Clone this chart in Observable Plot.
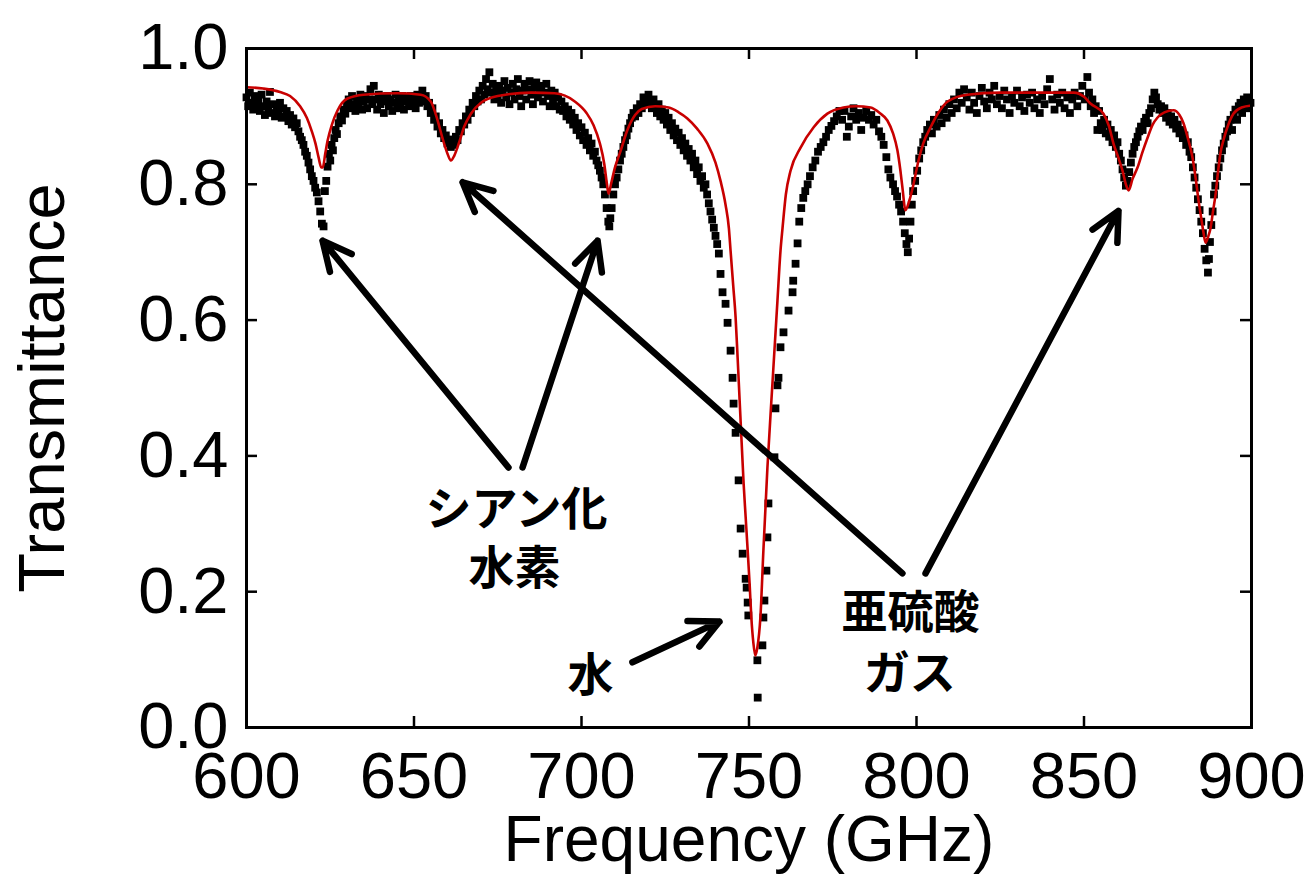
<!DOCTYPE html>
<html><head><meta charset="utf-8">
<script src="https://cdn.jsdelivr.net/npm/d3@7"></script>
<script src="https://cdn.jsdelivr.net/npm/@observablehq/plot@0.6"></script>
<style>body{margin:0;background:#fff;} #chart svg{display:block;}</style>
</head><body><div id="chart"></div>
<script>
// Measured transmittance (frequency GHz, transmittance)
const measured = [
[600.0,.928],[600.5,.915],[601.0,.935],[601.5,.920],[602.0,.910],[602.5,.930],[603.0,.918],[603.5,.925],[604.0,.908],[604.5,.932],[605.0,.915],[605.5,.902],[606.0,.922],[606.5,.912],[607.0,.936],[607.5,.905],[608.0,.918],[608.5,.900],[609.0,.915],[609.5,.905],[610.0,.920],[610.5,.898],[611.0,.912],[611.5,.900],[612.0,.908],[612.5,.893],[613.0,.902],[613.5,.888],[614.0,.897],[614.5,.884],
[615.0,.890],[615.5,.878],[616.0,.870],[616.5,.865],[617.0,.858],[617.5,.848],[618.0,.842],[618.5,.832],[619.0,.822],[619.5,.812],[620.0,.805],[620.5,.795],[621.0,.788],[621.5,.775],[622.0,.760],[622.5,.742],[623.0,.738],[623.4,.790],[623.8,.805],[624.2,.826],[624.6,.845],[625.0,.835],[625.4,.858],[625.8,.850],[626.2,.868],[626.6,.880],[627.0,.874],[627.5,.890],[628.0,.900],[628.5,.894],[629.0,.910],[629.5,.904],[630.0,.918],
[630.5,.925],[631.0,.912],[631.5,.930],[632.0,.918],[632.5,.908],[633.0,.925],[633.5,.915],[634.0,.932],[634.5,.910],[635.0,.922],[635.5,.930],[636.0,.912],[636.5,.925],[637.0,.940],[637.5,.918],[638.0,.945],[638.5,.925],[639.0,.910],[639.5,.932],[640.0,.918],[640.5,.928],[641.0,.905],[641.5,.922],[642.0,.930],[642.5,.915],[643.0,.925],[643.5,.908],[644.0,.920],[644.5,.932],[645.0,.912],[645.5,.925],[646.0,.918],[646.5,.930],[647.0,.910],[647.5,.922],[648.0,.928],[648.5,.915],[649.0,.930],[649.5,.918],[650.0,.925],[650.5,.912],[651.0,.932],[651.5,.920],[652.0,.928],[652.5,.938],[653.0,.922],[653.5,.930],[654.0,.915],
[654.5,.920],[655.0,.905],[655.5,.912],[656.0,.895],[656.5,.900],[657.0,.885],[657.5,.890],[658.0,.875],[658.5,.880],[659.0,.868],[659.5,.872],[660.0,.860],[660.5,.866],[661.0,.855],[661.5,.862],[662.0,.858],[662.5,.870],[663.0,.865],[663.5,.880],[664.0,.878],[664.5,.890],[665.0,.888],[665.5,.900],[666.0,.895],[666.5,.910],[667.0,.905],[667.5,.920],[668.0,.915],[668.5,.930],[669.0,.922],[669.5,.938],[670.0,.925],[670.5,.945],[671.0,.932],[671.5,.955],[672.0,.940],[672.5,.965],[673.0,.935],[673.5,.948],[674.0,.925],[674.5,.940],
[675.0,.930],[675.5,.945],[676.0,.920],[676.5,.938],[677.0,.952],[677.5,.928],[678.0,.942],[678.5,.918],[679.0,.935],[679.5,.948],[680.0,.925],[680.5,.940],[681.0,.955],[681.5,.930],[682.0,.915],[682.5,.938],[683.0,.948],[683.5,.925],[684.0,.940],[684.5,.952],[685.0,.932],[685.5,.918],[686.0,.942],[686.5,.950],[687.0,.928],[687.5,.940],[688.0,.945],[688.5,.922],[689.0,.935],[689.5,.948],[690.0,.930],[690.5,.915],[691.0,.938],[691.5,.925],[692.0,.935],[692.5,.915],[693.0,.928],[693.5,.910],[694.0,.922],[694.5,.908],[695.0,.915],[695.5,.900],[696.0,.910],
[696.5,.895],[697.0,.905],[697.5,.888],[698.0,.898],[698.5,.880],[699.0,.890],[699.5,.872],[700.0,.884],[700.5,.865],[701.0,.876],[701.5,.858],[702.0,.868],[702.5,.850],[703.0,.860],[703.5,.842],[704.0,.848],[704.5,.835],[705.0,.828],[705.5,.820],[706.0,.810],[706.5,.800],[707.0,.785],[707.5,.765],[708.0,.745],[708.3,.738],[708.6,.750],[709.0,.765],[709.5,.785],[710.0,.800],[710.5,.810],[711.0,.822],[711.5,.835],[712.0,.845],[712.5,.855],[713.0,.865],[713.5,.872],[714.0,.882],[714.5,.890],[715.0,.898],[715.5,.905],[716.0,.900],[716.5,.912],[717.0,.905],[717.5,.918],[718.0,.912],[718.5,.928],[719.0,.918],[719.5,.925],[720.0,.932],[720.5,.920],[721.0,.912],[721.5,.925],[722.0,.915],[722.5,.905],[723.0,.918],[723.5,.900],[724.0,.910],[724.5,.895],[725.0,.905],[725.5,.888],[726.0,.898],[726.5,.880],[727.0,.890],[727.5,.872],[728.0,.882],[728.5,.865],[729.0,.876],[729.5,.858],[730.0,.868],[730.5,.850],[731.0,.860],[731.5,.842],[732.0,.852],[732.5,.835],[733.0,.845],[733.5,.825],[734.0,.835],[734.5,.815],[735.0,.825],[735.5,.805],[736.0,.812],[736.5,.795],[737.0,.800],[737.5,.785],[738.0,.772],[738.5,.760],[739.0,.748],[739.5,.736],[740.0,.724],[740.5,.712],[741.0,.698],[741.5,.668],[742.1,.641],[743.0,.624],[743.6,.596],[744.5,.555],[745.1,.515],[745.4,.477],[746.0,.434],[746.9,.364],[747.5,.293],[748.1,.256],[749.0,.219],[749.3,.206],[749.6,.184],[749.8,.165],[752.5,.099],[752.6,.044],
[754.0,.121],[754.3,.162],[754.6,.187],[755.2,.231],[755.5,.280],[755.8,.330],[757.6,.398],[757.9,.470],[758.5,.504],[758.8,.515],[759.4,.560],[760.3,.582],[761.8,.614],[763.0,.641],[763.2,.658],[763.9,.683],[764.5,.713],[765.0,.745],[765.6,.765],[766.2,.780],[766.8,.790],[767.5,.800],[768.2,.812],[769.0,.825],[769.8,.835],[770.6,.848],[771.4,.855],[772.2,.862],[773.0,.870],[773.8,.880],[774.6,.886],[775.4,.893],[776.2,.900],[777.0,.908],[777.8,.895],[778.5,.908],[779.2,.870],[779.8,.885],[780.5,.900],[781.2,.912],[782.0,.895],[782.8,.905],[783.5,.880],[784.2,.898],[785.0,.908],[785.8,.895],[786.5,.902],[787.2,.888],[788.0,.895],[788.8,.878],[789.5,.870],[790.2,.858],[791.0,.840],[791.6,.822],[792.2,.810],[793.0,.800],[793.6,.790],[794.2,.782],[794.8,.770],[795.4,.760],[796.0,.745],[796.5,.728],[797.0,.712],[797.4,.700],[797.8,.720],[798.2,.745],[798.6,.770],[799.0,.790],[799.6,.805],[800.2,.820],[800.8,.838],[801.4,.850],[802.0,.862],[802.6,.870],[803.2,.880],[804.0,.888],[804.6,.875],[805.2,.895],[806.0,.885],[806.8,.902],[807.5,.890],[808.2,.910],[809.0,.898],[809.8,.918],[810.5,.905],[811.2,.925],[812.0,.912],[812.8,.935],
[813.5,.920],[814.2,.940],[815.0,.928],[815.8,.910],[816.5,.935],[817.2,.920],[818.0,.905],[818.8,.930],[819.5,.942],[820.2,.922],[821.0,.912],[821.8,.935],[822.5,.925],[823.2,.945],[824.0,.918],[824.8,.930],[825.5,.912],[826.2,.938],[827.0,.925],[827.8,.905],[828.5,.930],[829.2,.920],[830.0,.938],[830.8,.915],[831.5,.928],[832.2,.908],[833.0,.932],[833.8,.920],[834.5,.935],[835.2,.912],[836.0,.925],[836.8,.905],[837.5,.930],[838.2,.918],[839.0,.940],[839.8,.955],[840.5,.925],[841.2,.910],[842.0,.932],[842.8,.920],[843.5,.935],[844.2,.912],[845.0,.928],[845.8,.905],[846.5,.925],[847.2,.935],[848.0,.915],[848.8,.930],[849.5,.945],[850.2,.925],[851.0,.958],[851.5,.935],[852.0,.915],[852.5,.925],
[853.0,.905],[853.5,.915],[854.0,.880],[854.5,.908],[855.0,.890],[855.5,.880],[856.0,.895],[856.5,.875],[857.0,.888],[857.5,.870],[858.0,.880],[858.5,.862],[859.0,.872],[859.5,.855],[860.0,.862],[860.5,.845],[861.0,.835],[861.5,.822],[862.0,.810],[862.5,.798],[863.0,.805],[863.5,.818],[864.0,.832],[864.5,.845],[865.0,.855],[865.5,.862],[866.0,.870],[866.5,.878],[867.0,.885],[867.5,.880],[868.0,.892],[868.5,.898],[869.0,.890],[869.5,.905],[870.0,.912],[870.5,.925],[871.0,.935],[871.5,.928],[872.0,.918],[872.5,.910],[873.0,.915],[873.5,.905],[874.0,.912],[874.5,.898],[875.0,.905],[875.5,.892],[876.0,.900],[876.5,.888],[877.0,.895],[877.5,.882],[878.0,.888],[878.5,.875],[879.0,.880],[879.5,.868],[880.0,.872],[880.5,.858],[881.0,.862],[881.5,.848],[882.0,.840],[882.5,.825],[883.0,.810],[883.5,.795],[884.0,.778],[884.5,.762],[885.0,.745],[885.5,.728],[886.0,.705],[886.5,.688],[887.0,.670],[887.3,.690],[887.6,.715],[888.0,.740],[888.4,.760],[888.8,.785],[889.2,.798],[889.7,.812],[890.2,.825],[890.7,.838],[891.2,.850],[891.7,.860],[892.2,.870],[892.7,.878],[893.2,.888],[893.7,.895],[894.2,.880],[894.7,.902],[895.2,.910],[895.7,.895],[896.2,.915],[896.7,.920],[897.2,.905],[897.7,.925],[898.2,.915],[898.7,.928],[899.2,.912],[899.7,.920]
];

// Model fit (red curve)
const fitted = [
[600,.943],[605,.941],[610,.936],[613,.930],[616,.915],[618,.898],[619.5,.878],[620.6,.860],[621.5,.840],[622.3,.825],[622.8,.825],[623.5,.845],[624.2,.864],[625.5,.888],[627.2,.909],[630,.926],[635,.932],[645,.934],[652,.932],[655,.922],[657,.895],[658.5,.868],[660,.845],[661,.835],[662,.842],[663.5,.862],[665,.885],[667,.904],[670,.920],[675,.930],[685,.935],[692,.934],[698,.922],[701.5,.905],[703.6,.887],[705.5,.860],[706.8,.830],[707.6,.800],[708.1,.786],[708.8,.800],[710,.825],[711.6,.848],[713.7,.880],[716,.902],[718,.911],[722,.915],[726,.913],[729,.906],[731.6,.897],[734.5,.882],[737.6,.860],[740,.832],[741.5,.805],[743,.770],[744,.735],[744.5,.702],[745.3,.650],[746,.604],[746.6,.545],[747.2,.482],[747.8,.420],[748.4,.359],[749,.310],[749.6,.261],[750.2,.210],[750.7,.162],[751.3,.125],[751.9,.106],[752.5,.118],[753.4,.162],[754.3,.261],[755.5,.383],[757,.507],[758.5,.629],[759.4,.702],[760,.735],[761,.785],[762.4,.820],[765.4,.854],[769.3,.884],[773.4,.904],[778.2,.913],[782,.915],[786.3,.913],[789,.905],[791.3,.894],[793,.875],[794.3,.850],[795.2,.820],[795.8,.795],[796.7,.762],[797.8,.775],[799.1,.800],[800.6,.835],[802,.860],[804.2,.884],[806.5,.905],[809.3,.922],[815.2,.932],[825,.935],[837,.935],[846.9,.935],[850,.929],[851.9,.919],[855.8,.904],[857.5,.885],[858.8,.860],[860.2,.840],[861.5,.820],[862.5,.800],[863.3,.791],[864.5,.808],[866,.825],[867.5,.848],[869,.869],[870.5,.888],[871.9,.898],[874,.906],[876.7,.909],[878.5,.902],[879.7,.890],[881,.868],[882.4,.839],[883.3,.810],[884.2,.776],[885,.750],[885.7,.728],[886.3,.714],[887,.722],[887.8,.736],[888.5,.760],[889.3,.786],[890,.818],[890.7,.845],[891.8,.868],[892.8,.884],[894.6,.904],[897,.913],[900,.916]
];

const xTicks = [600, 650, 700, 750, 800, 850, 900];
const yTicks = [0, 0.2, 0.4, 0.6, 0.8, 1.0];

// Annotations (Japanese labels)
const labelText = ["シアン化", "水素", "水", "亜硫酸", "ガス"];
const labelFreq = [680.6, 680.0, 702.7, 798.2, 798.0];
const labelTrans = [0.320, 0.233, 0.075, 0.168, 0.079];

// Arrows: start (tail) and end (head) in data coordinates
const arrowFromFreq  = [678.2, 682.4, 795.8, 802.7, 715.2];
const arrowFromTrans = [0.383, 0.383, 0.227, 0.227, 0.096];
const arrowToFreq    = [622.7, 704.8, 664.5, 860.3, 741.2];
const arrowToTrans   = [0.717, 0.717, 0.803, 0.761, 0.156];

const meas = measured.map(([f, t]) => ({f, t}));
const fit = fitted.map(([f, t]) => ({f, t}));
const labels = labelText.map((s, i) => ({s, f: labelFreq[i], t: labelTrans[i]}));
const arrows = arrowFromFreq.map((d, i) => ({x1: d, y1: arrowFromTrans[i], x2: arrowToFreq[i], y2: arrowToTrans[i]}));

const W = 1305, H = 881, mL = 246, mR = 54, mT = 48, mB = 154;
const plotH = H - mT - mB, plotW = W - mL - mR;
const font = "'Liberation Sans', Arial, Helvetica, sans-serif";
const FS = 65;

const chart = Plot.plot({
  width: W, height: H,
  marginLeft: mL, marginRight: mR, marginTop: mT, marginBottom: mB,
  style: {fontFamily: font, background: "#fff", color: "#000", overflow: "visible"},
  x: {domain: [600, 900]},
  y: {domain: [0, 1]},
  marks: [
    Plot.dot(meas, {x: "f", y: "t", symbol: "square", r: 4.4, fill: "#000", stroke: "none"}),
    Plot.line(fit, {x: "f", y: "t", stroke: "#c80000", strokeWidth: 2.6, curve: "monotone-x"}),
    Plot.arrow(arrows, {x1: "x1", y1: "y1", x2: "x2", y2: "y2", stroke: "#000", strokeWidth: 6.5, headLength: 7.4, headAngle: 52}),
    Plot.text(labels, {x: "f", y: "t", text: "s", fontFamily: "'Noto Sans CJK JP', sans-serif", fontWeight: "bold", fontSize: 46, fill: "#000", textAnchor: "middle", lineAnchor: "middle"}),
    Plot.frame({stroke: "#000", strokeWidth: 3}),
    Plot.tickX(xTicks, {x: d => d, insetTop: plotH - 11, stroke: "#000", strokeWidth: 2.5}),
    Plot.tickX(xTicks, {x: d => d, insetBottom: plotH - 11, stroke: "#000", strokeWidth: 2.5}),
    Plot.tickY(yTicks, {y: d => d, insetRight: plotW - 11, stroke: "#000", strokeWidth: 2.5}),
    Plot.tickY(yTicks, {y: d => d, insetLeft: plotW - 11, stroke: "#000", strokeWidth: 2.5}),
    Plot.axisX({ticks: xTicks, tickSize: 0, tickPadding: 24, tickFormat: d => String(d), label: null, fontSize: FS, fill: "#000"}),
    Plot.axisY({ticks: yTicks, tickSize: 0, tickPadding: 18, tickFormat: d3.format(".1f"), label: null, fontSize: FS, fill: "#000"}),
    Plot.text(["Frequency (GHz)"], {frameAnchor: "bottom", dy: 113, fontSize: 64, fill: "#000", textAnchor: "middle", lineAnchor: "middle"}),
    Plot.text(["Transmittance"], {frameAnchor: "left", dx: -(mL - 43), rotate: -90, fontSize: FS, fill: "#000", textAnchor: "middle", lineAnchor: "middle"})
  ]
});
document.getElementById("chart").appendChild(chart);
</script>
</body></html>
